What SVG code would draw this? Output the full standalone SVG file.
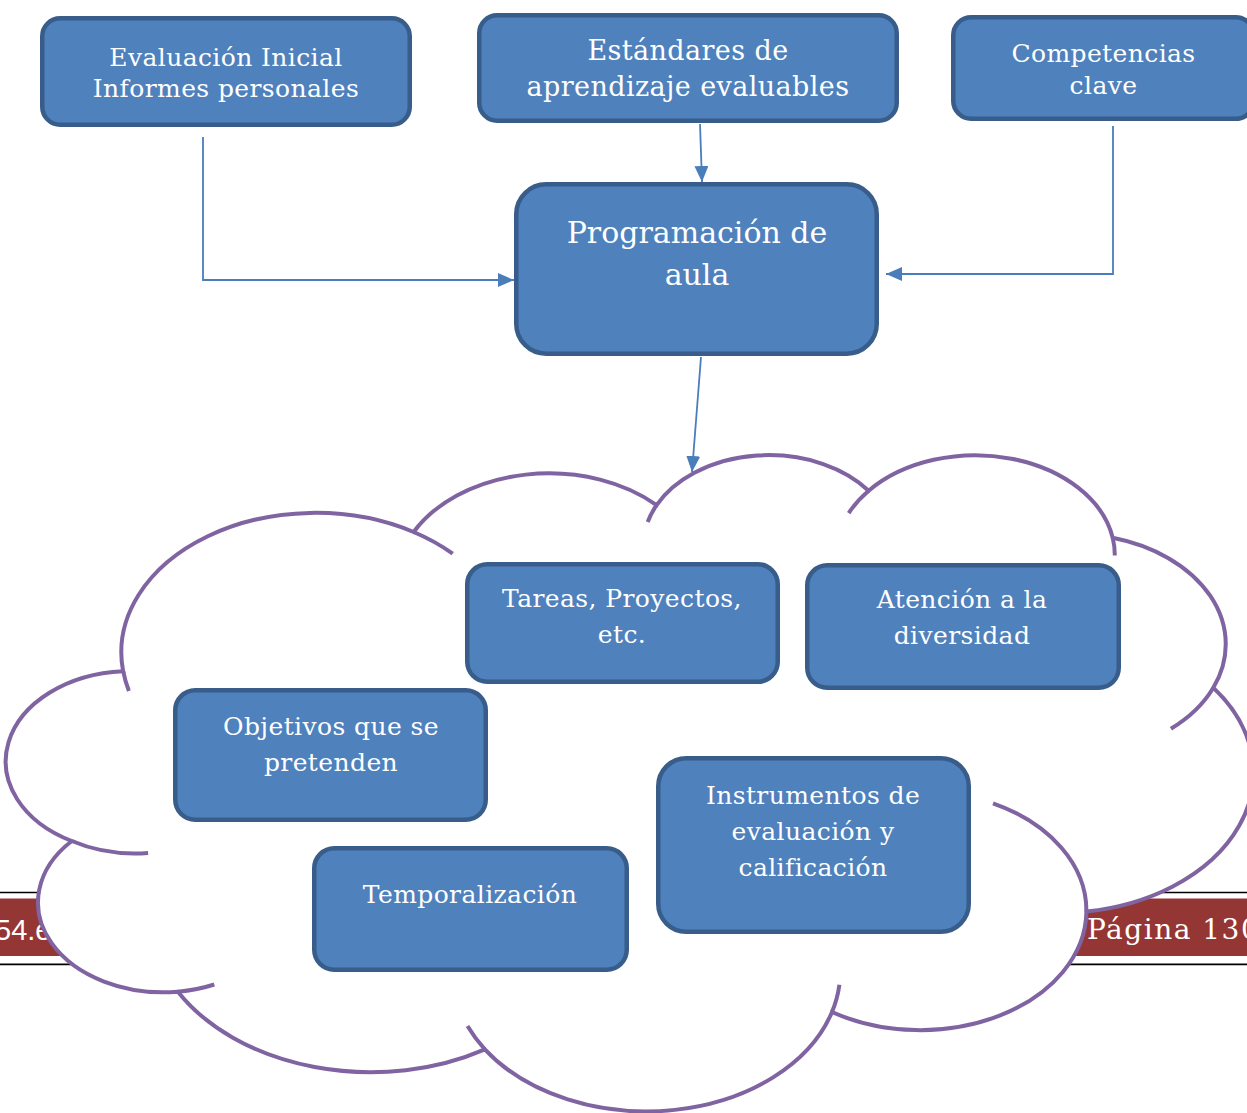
<svg xmlns="http://www.w3.org/2000/svg" width="1247" height="1113" viewBox="0 0 1247 1113">
<defs>
<style>
.node rect { fill:#4F81BD; stroke:#385D8A; stroke-width:4.5; }
.node text { font-family:"DejaVu Serif", serif; fill:#FFFFFF; text-anchor:middle; font-size:25px; letter-spacing:0.4px; }
.conn { fill:none; stroke:#4A7EBB; stroke-width:1.8; marker-end:url(#arrow); }
.cloud { fill:#FFFFFF; stroke:#8064A2; stroke-width:4; }
.cloud-inner { fill:none; stroke:#8064A2; stroke-width:4; }
.footer-line { stroke:#000000; stroke-width:1.7; }
</style>
<marker id="arrow" markerUnits="userSpaceOnUse" markerWidth="16" markerHeight="14" viewBox="0 0 16 14" refX="16" refY="7" orient="auto">
<path d="M0,0 L16,7 L0,14 z" fill="#4A7EBB"/>
</marker>
</defs>
<rect width="1247" height="1113" fill="#FFFFFF"/>

<g id="footer">
<line class="footer-line" x1="0" y1="892.5" x2="1247" y2="892.5"/>
<rect x="0" y="898.5" width="1247" height="57.5" fill="#943634"/>
<line class="footer-line" x1="0" y1="964.3" x2="1247" y2="964.3"/>
<text x="-5" y="940" font-family="Liberation Sans, Arial, sans-serif" font-size="29" fill="#FFFFFF">54.e</text>
<text x="1087" y="938.5" font-family="DejaVu Serif, serif" font-size="28" letter-spacing="1.5" fill="#FFFFFF">Página 130</text>
</g>

<g id="cloud">
<path class="cloud" d="M 123.1 671.2 A 194.1 139.6 0 0 1 413.6 532.0 A 153.3 110.4 0 0 1 656.6 505.1 A 125.5 90.3 0 0 1 868.7 490.7 A 139.6 100.1 0 0 1 1112.7 537.7 A 153.3 110.4 0 0 1 1213.3 687.8 A 194.8 140.0 0 0 1 1086.4 911.6 A 166.3 119.5 0 0 1 832.0 1012.0 A 194.1 139.9 0 0 1 484.9 1049.3 A 221.95 160.1 0 0 1 177.9 991.7 A 125.35 89.9 0 0 1 71.8 841.0 A 124.9 90.3 0 0 1 123.1 671.2 Z"/>
<path class="cloud-inner" d="M 123.2 671.2 A 194.1 139.6 0 0 0 128.9 690.9 M 413.6 532.0 A 194.1 139.6 0 0 1 452.7 553.7 M 656.6 505.1 A 125.5 90.3 0 0 0 647.7 522.0 M 868.7 490.7 A 139.6 100.1 0 0 0 848.7 513.1 M 1112.7 537.7 A 139.6 100.1 0 0 1 1114.8 555.4 M 1213.3 687.8 A 153.3 110.4 0 0 1 1170.9 728.8 M 993.0 803.3 A 166.3 119.5 0 0 1 1086.4 911.6 M 832.0 1012.0 A 194.1 139.9 0 0 0 839.4 984.8 M 484.9 1049.3 A 194.1 139.9 0 0 1 467.5 1026.1 M 177.9 991.7 A 125.35 89.9 0 0 0 214.3 984.5 M 71.8 841.0 A 124.9 90.3 0 0 0 148.1 852.9"/>
</g>

<g id="node-evaluacion" class="node">
<rect x="42.25" y="18.25" width="367.5" height="106.5" rx="18"/>
<text x="226" y="66">Evaluación Inicial</text>
<text x="226" y="97">Informes personales</text>
</g>

<g id="node-estandares" class="node">
<rect x="479.25" y="15.25" width="417.5" height="105.5" rx="18"/>
<text x="688" y="60" style="font-size:27px">Estándares de</text>
<text x="688" y="96" style="font-size:27px">aprendizaje evaluables</text>
</g>

<g id="node-competencias" class="node">
<rect x="953.25" y="17.25" width="300.5" height="101.5" rx="18"/>
<text x="1103.5" y="62">Competencias</text>
<text x="1103.5" y="94">clave</text>
</g>

<g id="node-programacion" class="node">
<rect x="516.25" y="184.25" width="360.5" height="169.5" rx="30"/>
<text x="697" y="243" style="font-size:30px;letter-spacing:0">Programación de</text>
<text x="697" y="285" style="font-size:30px;letter-spacing:0">aula</text>
</g>

<g id="node-tareas" class="node">
<rect x="467.25" y="564.25" width="310.5" height="117.5" rx="20"/>
<text x="622" y="607">Tareas, Proyectos,</text>
<text x="622" y="643">etc.</text>
</g>

<g id="node-atencion" class="node">
<rect x="807.25" y="565.25" width="311.5" height="122.5" rx="20"/>
<text x="962" y="608">Atención a la</text>
<text x="962" y="644">diversidad</text>
</g>

<g id="node-objetivos" class="node">
<rect x="175.25" y="690.25" width="310.5" height="129.5" rx="20"/>
<text x="331" y="735">Objetivos que se</text>
<text x="331" y="771">pretenden</text>
</g>

<g id="node-temporalizacion" class="node">
<rect x="314.25" y="848.25" width="312.5" height="121.5" rx="20"/>
<text x="470" y="903">Temporalización</text>
</g>

<g id="node-instrumentos" class="node">
<rect x="658.25" y="758.25" width="310.5" height="173.5" rx="28"/>
<text x="813" y="804">Instrumentos de</text>
<text x="813" y="840">evaluación y</text>
<text x="813" y="876">calificación</text>
</g>

<g id="connectors">
<path class="conn" d="M 203 137 L 203 280 L 514 280"/>
<path class="conn" d="M 700 124 L 702 182"/>
<path class="conn" d="M 1113 126 L 1113 274 L 886 274"/>
<path class="conn" d="M 701 357 L 692 472"/>
</g>
</svg>
